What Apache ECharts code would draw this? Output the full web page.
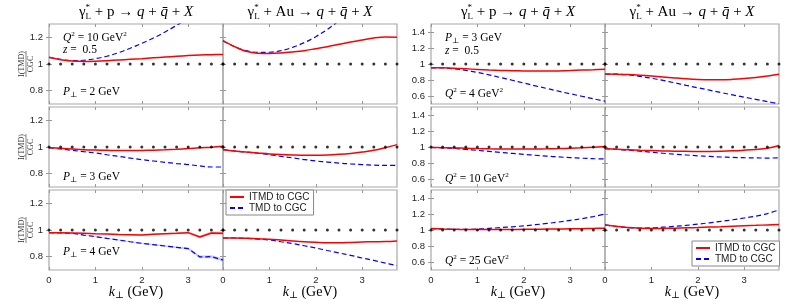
<!DOCTYPE html>
<html><head><meta charset="utf-8">
<script src="https://cdn.jsdelivr.net/npm/echarts@6/dist/echarts.min.js"></script>
<style>html,body{margin:0;padding:0;background:#fff}#c{width:789px;height:308px}</style>
</head><body><div id="c"></div>
<script>
// ---------- data ----------
const kVals = [0,0.25,0.5,0.75,1,1.25,1.5,1.75,2,2.25,2.5,2.75,3,3.25,3.5,3.75];
const refLevel = 1;
const xTicks = [0,1,2,3];
const yTicksLeft = [0.8,1,1.2];
const yTicksRight = [0.6,0.8,1,1.2,1.4];
const seriesNames = ['ITMD to CGC','TMD to CGC'];

// Left group: Q^2 = 10 GeV^2, z = 0.5 ; rows P_perp = 2,3,4 GeV ; columns p, Au
const itmd_p_P2  = [1.05,1.032,1.022,1.019,1.021,1.025,1.03,1.035,1.04,1.046,1.052,1.058,1.063,1.067,1.07,1.072];
const tmd_p_P2   = [1.05,1.035,1.025,1.028,1.04,1.058,1.085,1.118,1.155,1.195,1.24,1.29,1.345,1.4,1.46,1.52];
const itmd_Au_P2 = [1.175,1.13,1.095,1.08,1.078,1.082,1.09,1.1,1.115,1.13,1.148,1.165,1.18,1.195,1.203,1.2];
const tmd_Au_P2  = [1.175,1.13,1.1,1.087,1.088,1.1,1.125,1.16,1.205,1.26,1.325,1.4,1.48,1.56,1.65,1.75];

const itmd_p_P3  = [0.995,0.99,0.985,0.98,0.977,0.975,0.973,0.973,0.974,0.976,0.979,0.983,0.988,0.994,0.998,1.005];
const tmd_p_P3   = [0.995,0.985,0.975,0.965,0.955,0.942,0.93,0.917,0.905,0.895,0.885,0.876,0.868,0.858,0.85,0.85];
const itmd_Au_P3 = [0.98,0.97,0.962,0.955,0.948,0.943,0.94,0.938,0.938,0.94,0.945,0.952,0.962,0.975,0.995,1.018];
const tmd_Au_P3  = [0.98,0.97,0.962,0.953,0.943,0.93,0.918,0.906,0.895,0.887,0.879,0.873,0.868,0.864,0.862,0.863];

const itmd_p_P4  = [0.98,0.98,0.978,0.975,0.972,0.97,0.967,0.965,0.962,0.968,0.972,0.975,0.98,0.948,0.978,0.975];
const tmd_p_P4   = [0.98,0.978,0.975,0.962,0.95,0.937,0.925,0.912,0.9,0.89,0.88,0.87,0.86,0.798,0.8,0.775];
const itmd_p_P4_err = [0.002,0.002,0.002,0.003,0.003,0.003,0.004,0.004,0.005,0.005,0.006,0.007,0.008,0.01,0.011,0.012];
const tmd_p_P4_err  = [0.002,0.002,0.002,0.003,0.003,0.003,0.004,0.004,0.005,0.005,0.006,0.007,0.008,0.01,0.011,0.012];
const itmd_Au_P4 = [0.94,0.94,0.938,0.935,0.93,0.925,0.918,0.912,0.908,0.905,0.905,0.907,0.91,0.912,0.913,0.918];
const tmd_Au_P4  = [0.94,0.94,0.937,0.932,0.925,0.912,0.898,0.882,0.865,0.846,0.828,0.81,0.79,0.772,0.752,0.732];

// Right group: P_perp = 3 GeV, z = 0.5 ; rows Q^2 = 4,10,25 GeV^2 ; columns p, Au
const itmd_p_Q4  = [0.952,0.952,0.948,0.94,0.932,0.925,0.92,0.916,0.913,0.912,0.912,0.914,0.918,0.924,0.929,0.935];
const tmd_p_Q4   = [0.952,0.952,0.94,0.92,0.895,0.865,0.83,0.797,0.762,0.727,0.694,0.66,0.628,0.597,0.565,0.535];
const itmd_Au_Q4 = [0.875,0.873,0.868,0.86,0.85,0.838,0.826,0.815,0.807,0.803,0.803,0.808,0.818,0.832,0.85,0.872];
const tmd_Au_Q4  = [0.875,0.873,0.865,0.845,0.822,0.795,0.765,0.733,0.703,0.673,0.643,0.613,0.585,0.558,0.53,0.502];

const itmd_p_Q10  = [0.995,0.992,0.988,0.984,0.98,0.977,0.975,0.974,0.974,0.975,0.977,0.98,0.985,0.99,0.997,1.005];
const tmd_p_Q10   = [0.995,0.99,0.982,0.97,0.958,0.945,0.932,0.92,0.908,0.897,0.886,0.876,0.867,0.86,0.854,0.85];
const itmd_Au_Q10 = [0.978,0.972,0.966,0.96,0.955,0.951,0.948,0.946,0.945,0.945,0.947,0.952,0.96,0.97,0.985,1.018];
const tmd_Au_Q10  = [0.978,0.97,0.96,0.948,0.935,0.922,0.91,0.9,0.89,0.882,0.875,0.87,0.866,0.863,0.862,0.863];

const itmd_p_Q25  = [1.018,1.012,1.008,1.006,1.005,1.005,1.006,1.007,1.008,1.009,1.011,1.013,1.015,1.017,1.02,1.022];
const tmd_p_Q25   = [1.018,1.012,1.008,1.008,1.012,1.02,1.03,1.04,1.052,1.066,1.082,1.1,1.12,1.142,1.168,1.2];
const itmd_Au_Q25 = [1.063,1.045,1.03,1.022,1.02,1.021,1.023,1.027,1.031,1.036,1.041,1.047,1.053,1.058,1.064,1.07];
const tmd_Au_Q25  = [1.063,1.045,1.03,1.025,1.027,1.035,1.045,1.058,1.073,1.09,1.108,1.128,1.15,1.172,1.205,1.25];

// panel order: row-major, 4 columns
const panels = [
  {r:0,c:0,red:itmd_p_P2,blue:tmd_p_P2},  {r:0,c:1,red:itmd_Au_P2,blue:tmd_Au_P2},
  {r:0,c:2,red:itmd_p_Q4,blue:tmd_p_Q4},  {r:0,c:3,red:itmd_Au_Q4,blue:tmd_Au_Q4},
  {r:1,c:0,red:itmd_p_P3,blue:tmd_p_P3},  {r:1,c:1,red:itmd_Au_P3,blue:tmd_Au_P3},
  {r:1,c:2,red:itmd_p_Q10,blue:tmd_p_Q10},{r:1,c:3,red:itmd_Au_Q10,blue:tmd_Au_Q10},
  {r:2,c:0,red:itmd_p_P4,blue:tmd_p_P4,redErr:itmd_p_P4_err,blueErr:tmd_p_P4_err,sharp:true},
  {r:2,c:1,red:itmd_Au_P4,blue:tmd_Au_P4},
  {r:2,c:2,red:itmd_p_Q25,blue:tmd_p_Q25},{r:2,c:3,red:itmd_Au_Q25,blue:tmd_Au_Q25}
];

// ---------- layout ----------
const colLeft = [49,223,431,605];
const rowTop = [24,107,190];
const PW = 174, PH = 80;
const SERIF = '"Liberation Serif","DejaVu Serif",serif';
const SANS = '"Liberation Sans",Arial,sans-serif';

const ctx = document.createElement('canvas').getContext('2d');
function measure(t, font){ ctx.font = font; return ctx.measureText(t).width; }
function mathText(parts, x, y, size, align){
  let w = 0; const items = [];
  for (const p of parts){
    const fs = size*(p.sc||1);
    const font = (p.it?'italic ':'') + fs + 'px ' + SERIF;
    const pw = measure(p.t, font);
    items.push({p, font, off:w});
    if (!p.noAdv) w += pw;
  }
  const x0 = align === 'center' ? x - w/2 : x;
  return items.map(it => ({
    type:'text', x: x0 + it.off, y: y + (it.p.dy||0)*size, silent:true, z:50,
    style:{text: it.p.t, font: it.font, fill:'#000', textAlign:'left', textVerticalAlign:'middle', verticalAlign:'middle'}
  }));
}
const N = t => ({t});
const I = t => ({t, it:true});
const SUB = t => ({t, sc:0.68, dy:0.28});
const SUP = t => ({t, sc:0.62, dy:-0.32});

const graphics = [];
function title(cx, target){
  graphics.push(...mathText([N('γ'), {t:'*', sc:0.6, dy:-0.32, noAdv:true}, {t:'L', sc:0.6, dy:0.3}, N(' + '+target+' → '), I('q'), N(' + '), I('q̄'), N(' + '), I('X')], cx, 12, 15, 'center'));
}
title(colLeft[0]+PW/2, 'p'); title(colLeft[1]+PW/2, 'Au');
title(colLeft[2]+PW/2, 'p'); title(colLeft[3]+PW/2, 'Au');

const AS = 11.5;
function note(parts, x, y){ graphics.push(...mathText(parts, x, y, AS, 'left')); }
const QQ = v => [I('Q'), SUP('2'), N(' = '+v+' GeV'), SUP('2')];
const PP = v => [I('P'), SUB('⊥'), N(' = '+v+' GeV')];
const ZZ = [I('z'), N(' =  0.5')];
note(QQ(10), 63, 38); note(ZZ, 63, 50); note(PP(2), 63, 92);
note(PP(3), 63, 177); note(PP(4), 63, 252);
note(PP(3), 445, 38); note(ZZ, 445, 51); note(QQ(4), 445, 94);
note(QQ(10), 445, 179); note(QQ(25), 445, 261);
for (const c of [0,1,2,3]) graphics.push(...mathText([I('k'), SUB('⊥'), N(' (GeV)')], colLeft[c]+PW/2, 292, 14, 'center'));
for (const r of [0,1,2]) {
  graphics.push({type:'group', x:26, y:rowTop[r]+PH/2, rotation:Math.PI/2, silent:true, children:[
    {type:'text', x:0, y:-4.5, style:{text:'I(TMD)', font:'8px '+SERIF, fill:'#333', textAlign:'center', textVerticalAlign:'middle', align:'center', verticalAlign:'middle'}},
    {type:'line', shape:{x1:-13,y1:0,x2:13,y2:0}, style:{stroke:'#333', lineWidth:0.6}},
    {type:'text', x:0, y:4.5, style:{text:'CGC', font:'8px '+SERIF, fill:'#333', textAlign:'center', textVerticalAlign:'middle', align:'center', verticalAlign:'middle'}}
  ]});
}

// ---------- chart ----------
const grid = [], xAxis = [], yAxis = [], series = [];
const tickStyle = {show:true, inside:true, length:3, lineStyle:{color:'#999', width:1}};
panels.forEach((p, g) => {
  grid.push({left:colLeft[p.c], top:rowTop[p.r], width:PW, height:PH, show:true, borderColor:'#a8a8a8', borderWidth:1.2, containLabel:false});
  const right = p.c >= 2;
  const yMin = right ? 0.5 : 0.7, yMax = right ? 1.5 : 1.3, yT = right ? yTicksRight : yTicksLeft;
  xAxis.push({type:'value', gridIndex:g, position:'bottom', min:0, max:3.75,
    axisLine:{show:false}, splitLine:{show:false},
    axisTick:Object.assign({customValues:xTicks}, tickStyle),
    axisLabel:{show:p.r===2, customValues:xTicks, margin:5, fontSize:9.5, fontFamily:SANS, color:'#262626'}});
  xAxis.push({type:'value', gridIndex:g, position:'top', min:0, max:3.75,
    axisLine:{show:false}, splitLine:{show:false},
    axisTick:Object.assign({customValues:xTicks}, tickStyle), axisLabel:{show:false}});
  yAxis.push({type:'value', gridIndex:g, position:'left', min:yMin, max:yMax,
    axisLine:{show:false}, splitLine:{show:false},
    axisTick:Object.assign({customValues:yT}, tickStyle),
    axisLabel:{show:p.c===0||p.c===2, customValues:yT, margin:6, fontSize:9.5, fontFamily:SANS, color:'#262626'}});
  yAxis.push({type:'value', gridIndex:g, position:'right', min:yMin, max:yMax,
    axisLine:{show:false}, splitLine:{show:false},
    axisTick:Object.assign({customValues:yT}, tickStyle), axisLabel:{show:false}});
  const xi = 2*g, yi = 2*g;
  if (p.redErr) {
    const band = (vals, err, color) => ({type:'custom', xAxisIndex:xi, yAxisIndex:yi, silent:true, z:1, data:[0],
      renderItem:(params, api) => {
        const up = kVals.map((k,i) => api.coord([k, vals[i]+err[i]]));
        const lo = kVals.map((k,i) => api.coord([k, vals[i]-err[i]])).reverse();
        return {type:'polygon', shape:{points:up.concat(lo)}, style:{fill:color}};
      }});
    series.push(band(p.red, p.redErr, 'rgba(255,60,60,0.28)'));
    series.push(band(p.blue, p.blueErr, 'rgba(60,60,255,0.28)'));
  }
  series.push({name:seriesNames[1], type:'line', xAxisIndex:xi, yAxisIndex:yi, symbol:'none', smooth:p.sharp?false:0.35, clip:true, z:3,
    data:kVals.map((k,i)=>[k,p.blue[i]]), lineStyle:{color:'#0000ff', width:1.2, type:[5,3]}, itemStyle:{color:'#0000ff'}});
  series.push({name:seriesNames[0], type:'line', xAxisIndex:xi, yAxisIndex:yi, symbol:'none', smooth:p.sharp?false:0.35, clip:true, z:4,
    data:kVals.map((k,i)=>[k,p.red[i]]), lineStyle:{color:'#ff0000', width:1.5}, itemStyle:{color:'#ff0000'}});
  series.push({type:'scatter', xAxisIndex:xi, yAxisIndex:yi, symbol:'circle', symbolSize:3, z:5, silent:true,
    data:kVals.map(k=>[k,refLevel]), itemStyle:{color:'#000'}});
});

const legendCommon = {orient:'vertical', data:seriesNames, selectedMode:false, backgroundColor:'#fff', borderColor:'#888', borderWidth:1,
  padding:[2,4,2,3], itemGap:1, itemWidth:14, itemHeight:10, itemStyle:{opacity:0},
  textStyle:{fontSize:10, fontFamily:SANS, color:'#222'}};
const chart = echarts.init(document.getElementById('c'), null, {renderer:'canvas'});
chart.setOption({
  backgroundColor:'#fff', animation:false,
  grid, xAxis, yAxis, series,
  legend:[Object.assign({left:226, top:190}, legendCommon), Object.assign({left:692, top:241}, legendCommon)],
  graphic:graphics
});
</script></body></html>
